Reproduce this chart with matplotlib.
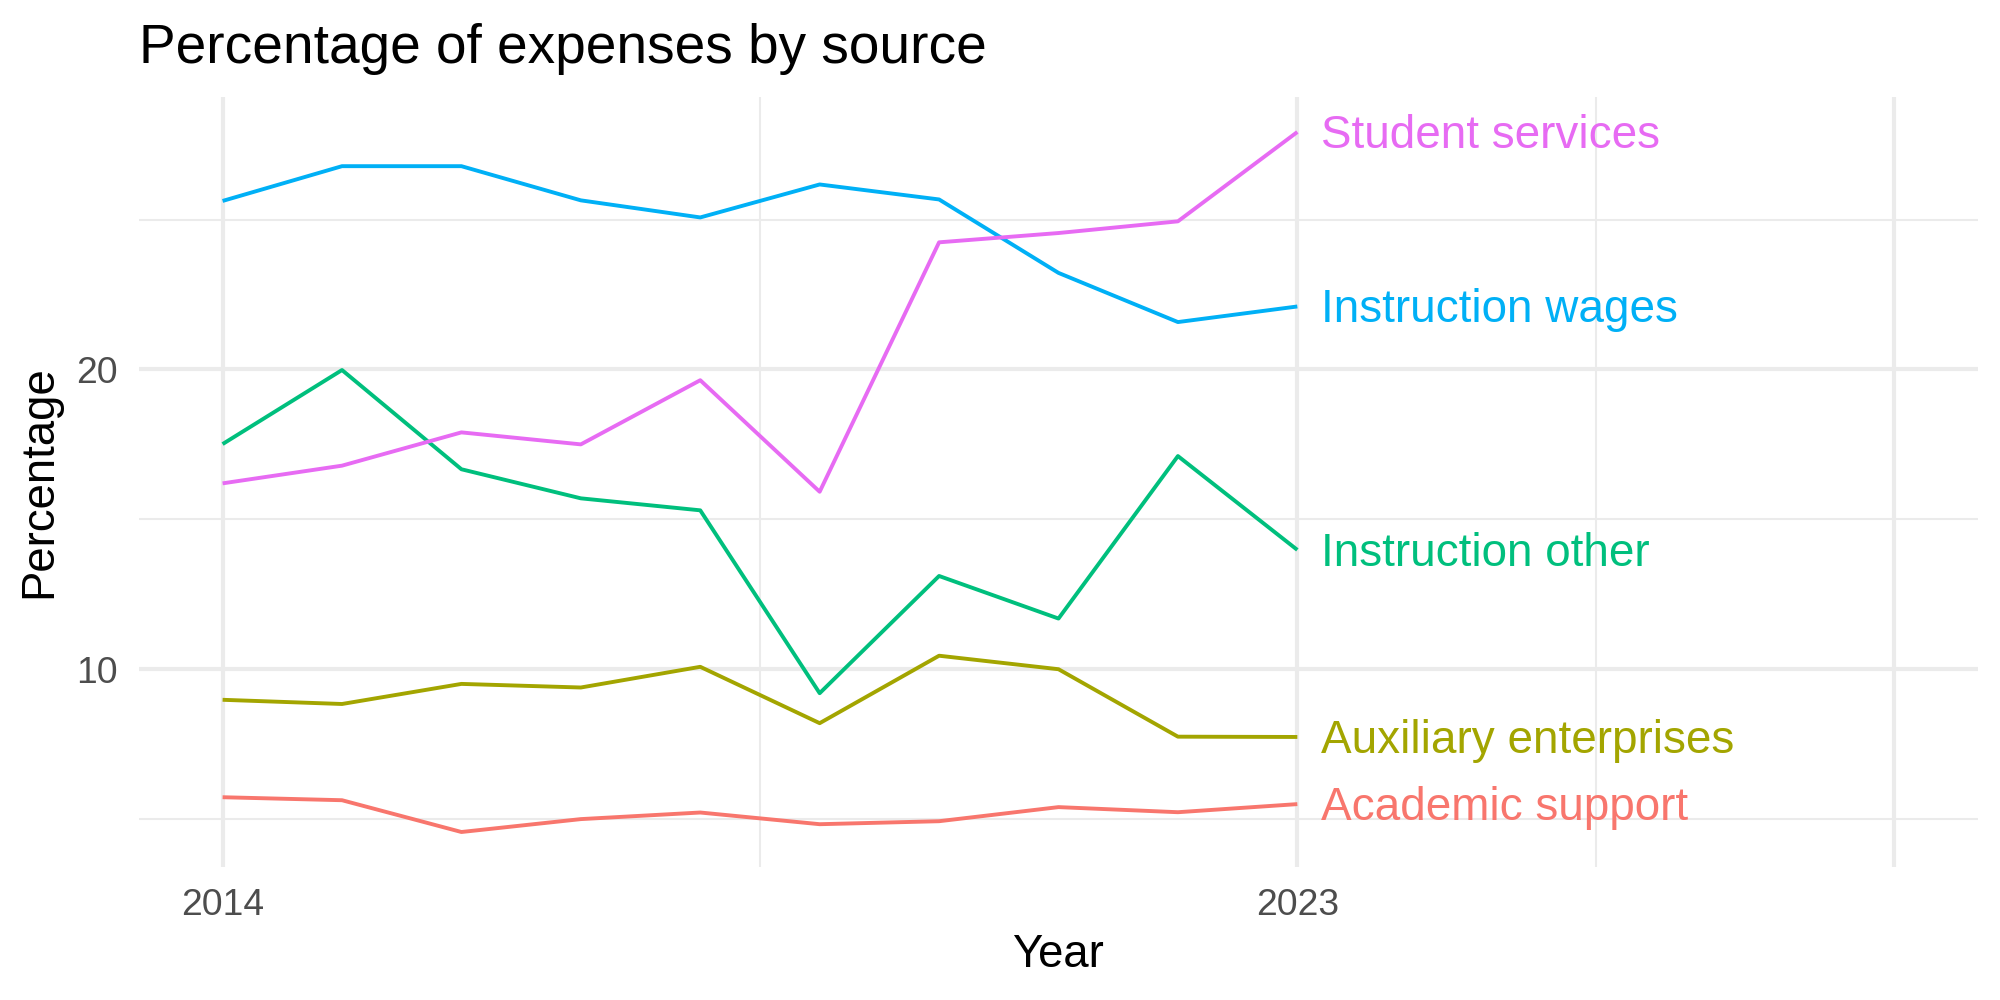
import matplotlib

matplotlib.use("Agg")
import matplotlib.pyplot as plt
import numpy as np

# ---- data ----------------------------------------------------------------
years = list(range(2014, 2024))

academic_support = [5.73, 5.63, 4.57, 5.00, 5.22, 4.83, 4.93, 5.40, 5.23, 5.50]
auxiliary = [8.98, 8.84, 9.51, 9.39, 10.08, 8.20, 10.45, 10.00, 7.75, 7.74]
instruction_other = [17.51, 19.98, 16.67, 15.70, 15.30, 9.20, 13.11, 11.69, 17.11, 13.98]
instruction_wages = [25.62, 26.78, 26.78, 25.64, 25.07, 26.17, 25.67, 23.22, 21.58, 22.10]
student_services = [16.20, 16.79, 17.90, 17.50, 19.64, 15.92, 24.24, 24.55, 24.94, 27.92]

series_names = ["Academic support", "Auxiliary enterprises", "Instruction other",
                "Instruction wages", "Student services"]
series_values = [academic_support, auxiliary, instruction_other,
                 instruction_wages, student_services]

x_major = [2014, 2023, 2028]
x_labels = ["2014", "2023", ""]
x_minor = [2018.5, 2025.5]
y_major = [10, 20]
y_minor = [5, 15, 25]

# ggplot2 default hue palette
COLORS = ["#F8766D", "#A3A500", "#00BF7D", "#00B0F6", "#E76BF3"]
GRID = "#EBEBEB"

plt.rcParams["font.family"] = ["Liberation Sans", "DejaVu Sans"]

fig = plt.figure(figsize=(10, 5), dpi=200)
fig.patch.set_facecolor("white")
ax = fig.add_axes([0.0695, 0.133, 0.9195, 0.770])

for name, vals, col in zip(series_names, series_values, COLORS):
    ax.plot(years, vals, color=col, lw=1.4, solid_capstyle="butt", zorder=3)
    ax.annotate(name, xy=(years[-1], vals[-1]), xytext=(8.5, -1.3), textcoords="offset points",
                ha="left", va="center", fontsize=16.5, color=col, zorder=4)

# 5% expansion like ggplot
xlo, xhi = 2014, 2028
dx = (xhi - xlo) * 0.05
ax.set_xlim(xlo - dx, xhi + dx)
allv = np.concatenate([np.array(v) for v in series_values])
dy = (allv.max() - allv.min()) * 0.05
ax.set_ylim(allv.min() - dy, allv.max() + dy)

ax.set_xticks(x_major)
ax.set_xticklabels(x_labels)
ax.set_xticks(x_minor, minor=True)
ax.set_yticks(y_major)
ax.set_yticks(y_minor, minor=True)

ax.grid(which="major", color=GRID, lw=1.5, zorder=0)
ax.grid(which="minor", color=GRID, lw=0.75, zorder=0)
ax.set_axisbelow(True)
for s in ax.spines.values():
    s.set_visible(False)
ax.tick_params(which="both", length=0)
ax.tick_params(axis="x", labelsize=13.4, labelcolor="#4D4D4D", pad=7.5)
ax.tick_params(axis="y", labelsize=13.4, labelcolor="#4D4D4D", pad=7.5)

fig.text(0.0695, 1 - 0.0627, "Percentage of expenses by source", fontsize=19.8,
         color="black", ha="left", va="baseline")
fig.text(0.529, 1 - 0.0667 - 0.9, "Year", fontsize=16.4, ha="center", va="baseline")
fig.text(0.0195, 0.518, "Percentage", fontsize=16.4, rotation=90, ha="center", va="center")

fig.savefig("out.png", dpi=200, facecolor="white")
